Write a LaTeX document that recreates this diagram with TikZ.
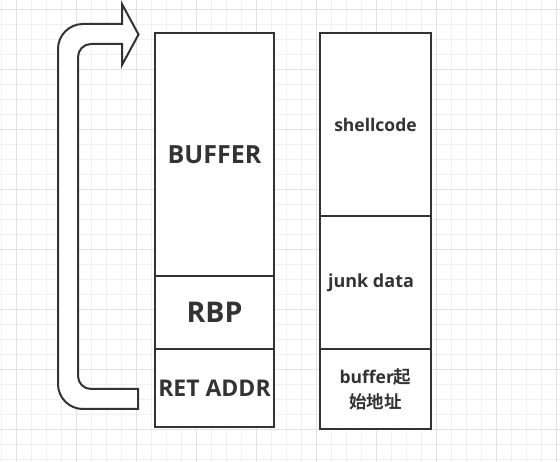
\documentclass[tikz,border=0pt]{standalone}
\usepackage{fontspec}
\setmainfont{Open Sans}
\newfontfamily\cjk{Noto Sans CJK SC}[BoldFont={Noto Sans CJK SC Bold}]
\definecolor{ink}{HTML}{333333}
\definecolor{gridminor}{HTML}{F0F0F0}
\definecolor{gridmajor}{HTML}{E2E2E2}
\begin{document}
\begin{tikzpicture}[x=1pt,y=-1pt,
  box/.style={draw=ink, line width=2pt, fill=white, text=ink, font=\bfseries, inner sep=0pt, align=center},
  leftbox/.style={box, minimum width=119pt},
  rightbox/.style={box, minimum width=111pt},
  arrowshape/.style={draw=ink, line width=2pt, fill=white, line join=miter}]
\useasboundingbox (0,0) rectangle (560,462);
\fill[white] (0,0) rectangle (560,462);
% grid
\foreach \i in {0,...,37} {
  \draw[gridminor, line width=1pt] (1.7+15*\i,0) -- (1.7+15*\i,462);
}
\foreach \i in {0,...,30} {
  \draw[gridminor, line width=1pt] (0,9.3+15*\i) -- (560,9.3+15*\i);
}
\foreach \i in {0,...,9} {
  \draw[gridmajor, line width=1pt] (16.7+60*\i,0) -- (16.7+60*\i,462);
}
\foreach \i in {0,...,7} {
  \draw[gridmajor, line width=1pt] (0,9.3+60*\i) -- (560,9.3+60*\i);
}
% return arrow
\draw[arrowshape] (138,389) -- (138,409) -- (83,409)
  .. controls (69.2,409) and (58,397.8) .. (58,384)
  -- (58,49)
  .. controls (58,35.2) and (69.2,24) .. (83,24)
  -- (122,24) -- (122,4) -- (138.5,34.5) -- (122,65) -- (122,44) -- (91,44)
  .. controls (83.8,44) and (78,49.8) .. (78,57)
  -- (78,376)
  .. controls (78,383.2) and (83.8,389) .. (91,389)
  -- cycle;
% left stack
\node[leftbox, minimum height=243pt, font=\bfseries\fontsize{25}{29}\selectfont] (buf) at (214.5,154.5) {BUFFER};
\node[leftbox, minimum height=73pt, font=\bfseries\fontsize{28.5}{32}\selectfont] (rbp) at (214.5,312.5) {RBP};
\node[leftbox, minimum height=78pt, font=\bfseries\fontsize{23}{27}\selectfont] (ret) at (214.5,388) {RET ADDR};
% right stack
\node[rightbox, minimum height=183pt, font=\bfseries\fontsize{17.5}{20}\selectfont] (shell) at (375.5,124.5) {shellcode};
\node[rightbox, minimum height=133pt, font=\bfseries\fontsize{18}{21}\selectfont] (junk) at (375.5,282.5) {junk data\hspace*{9pt}};
\node[rightbox, minimum height=80pt, font=\bfseries\fontsize{17.5}{25}\selectfont] (addr) at (375.5,389) {buffer{\cjk 起}\\{\cjk 始地址}};
\end{tikzpicture}
\end{document}
